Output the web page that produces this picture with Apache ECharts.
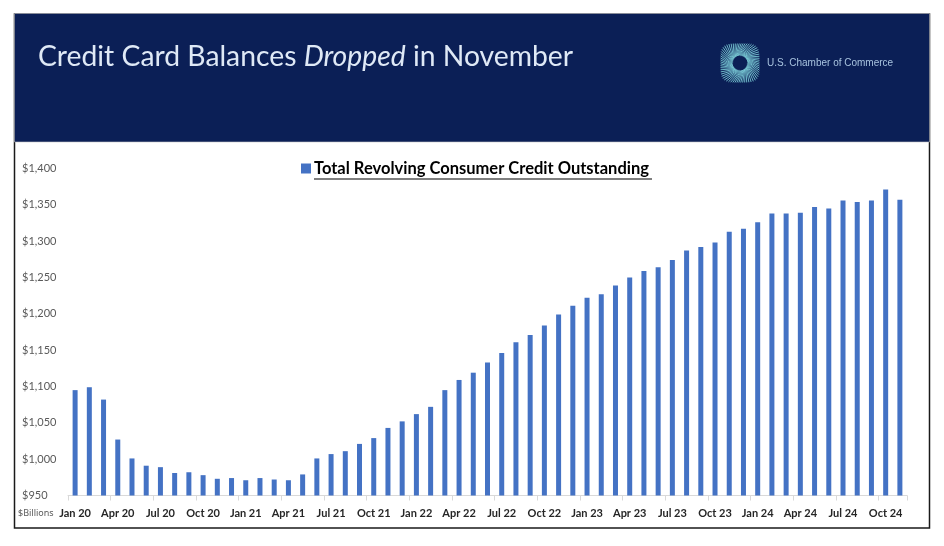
<!DOCTYPE html>
<html>
<head>
<meta charset="utf-8">
<script src="https://cdn.jsdelivr.net/npm/echarts@6/dist/echarts.min.js"></script>
<style>
html,body{margin:0;padding:0;background:#ffffff;}
#chart{width:944px;height:546px;}
</style>
</head>
<body>
<div id="chart"></div>
<script>
// ---- Data (values in $ billions) ----
var categories = [
  "Jan 20","Feb 20","Mar 20","Apr 20","May 20","Jun 20","Jul 20","Aug 20","Sep 20","Oct 20","Nov 20","Dec 20",
  "Jan 21","Feb 21","Mar 21","Apr 21","May 21","Jun 21","Jul 21","Aug 21","Sep 21","Oct 21","Nov 21","Dec 21",
  "Jan 22","Feb 22","Mar 22","Apr 22","May 22","Jun 22","Jul 22","Aug 22","Sep 22","Oct 22","Nov 22","Dec 22",
  "Jan 23","Feb 23","Mar 23","Apr 23","May 23","Jun 23","Jul 23","Aug 23","Sep 23","Oct 23","Nov 23","Dec 23",
  "Jan 24","Feb 24","Mar 24","Apr 24","May 24","Jun 24","Jul 24","Aug 24","Sep 24","Oct 24","Nov 24"
];
var revolvingCredit = [
  1095, 1099, 1082, 1027, 1001, 991, 989, 981, 982, 978, 973, 974,
  971, 974, 972, 971, 979, 1001, 1007, 1011, 1021, 1029, 1043, 1052,
  1062, 1072, 1095, 1109, 1119, 1133, 1146, 1161, 1171, 1184, 1199, 1211,
  1222, 1227, 1239, 1250, 1259, 1264, 1274, 1287, 1292, 1298, 1313, 1317,
  1326, 1338, 1338, 1339, 1347, 1345, 1356, 1354, 1356, 1371, 1357
];
var yTicks = [950, 1000, 1050, 1100, 1150, 1200, 1250, 1300, 1350, 1400];
var seriesName = "Total Revolving Consumer Credit Outstanding";
var titleParts = ["Credit Card Balances ", "Dropped", " in November"];
var brandText = "U.S. Chamber of Commerce";
var unitText = "$Billions";

// ---- Logo (decorative sunburst) ----
function logoLines(cx, cy) {
  var els = [];
  var n = 64;
  for (var i = 0; i < n; i++) {
    var a = i / n * Math.PI * 2;
    var a2 = a + 0.55;
    var r1 = 7.5;
    var c = Math.cos(a2), s = Math.sin(a2);
    var p = 4;
    var rr = 19.5 / Math.pow(Math.pow(Math.abs(c), p) + Math.pow(Math.abs(s), p), 1 / p);
    els.push({
      type: 'line',
      shape: { x1: cx + r1 * Math.cos(a), y1: cy + r1 * Math.sin(a), x2: cx + rr * c, y2: cy + rr * s },
      style: { stroke: '#7fd2dc', lineWidth: 0.9, opacity: 0.95 },
      z: 2, silent: true
    });
  }
  return els;
}

var chart = echarts.init(document.getElementById('chart'), null, { renderer: 'canvas' });

var graphics = [
  { type: 'rect', shape: { x: 14.5, y: 14, width: 915, height: 514 }, style: { fill: '#ffffff', stroke: '#1a1a1a', lineWidth: 1.5 }, z: 0, silent: true },
  { type: 'rect', shape: { x: 14.5, y: 13.5, width: 915, height: 128.5 }, style: { fill: '#0b1f56', stroke: '#c8c8c8', lineWidth: 0.6 }, z: 1, silent: true },
  { type: 'text', left: 767, top: 58, style: { text: brandText, fill: '#a8c3df', font: '10px "Liberation Sans", sans-serif' }, z: 3, silent: true },
  { type: 'text', left: 18, top: 509, style: { text: unitText, fill: '#595959', font: '9px "Noto Sans", sans-serif' }, z: 3, silent: true },
  { type: 'line', shape: { x1: 314, y1: 179, x2: 652, y2: 179 }, style: { stroke: '#000000', lineWidth: 1.2 }, z: 3, silent: true }
].concat(logoLines(740, 63));

var option = {
  animation: false,
  backgroundColor: '#ffffff',
  title: {
    text: '{n|' + titleParts[0] + '}{i|' + titleParts[1] + '}{n|' + titleParts[2] + '}',
    left: 33, top: 38,
    textStyle: {
      fontWeight: 'normal',
      rich: {
        n: { fontFamily: 'Lato', fontSize: 28.3, fontWeight: 'normal', color: '#dfe9f6' },
        i: { fontFamily: 'Lato', fontSize: 28.3, fontWeight: 'normal', color: '#dfe9f6', fontStyle: 'italic' }
      }
    }
  },
  legend: {
    data: [seriesName],
    left: 296, top: 155,
    icon: 'rect', itemWidth: 10, itemHeight: 10, itemGap: 6,
    textStyle: { fontFamily: 'Lato', fontWeight: 'bold', fontSize: 16.5, color: '#000000', padding: [0, 0, 0, -2] }
  },
  graphic: graphics,
  grid: { left: 68, right: 37, top: 168.5, bottom: 50.5, containLabel: false },
  xAxis: {
    type: 'category',
    data: categories,
    boundaryGap: true,
    axisLine: { show: true, lineStyle: { color: '#d9d9d9', width: 1 } },
    axisTick: { show: true, interval: 2, length: 5, lineStyle: { color: '#d9d9d9' } },
    axisLabel: { interval: 2, margin: 12, fontFamily: 'Lato', fontWeight: 'bold', fontSize: 11, color: '#262626' }
  },
  yAxis: {
    type: 'value',
    min: yTicks[0], max: yTicks[yTicks.length - 1], interval: 50,
    axisLine: { show: false },
    axisTick: { show: false },
    splitLine: { show: false },
    axisLabel: {
      align: 'left', margin: 46,
      fontFamily: 'Lato', fontSize: 11, color: '#595959',
      formatter: function (v) { return '$' + v.toLocaleString('en-US'); }
    }
  },
  series: [{
    name: seriesName,
    type: 'bar',
    data: revolvingCredit,
    barWidth: 5,
    itemStyle: { color: '#4472c4' }
  }]
};
chart.setOption(option);
</script>
</body>
</html>
